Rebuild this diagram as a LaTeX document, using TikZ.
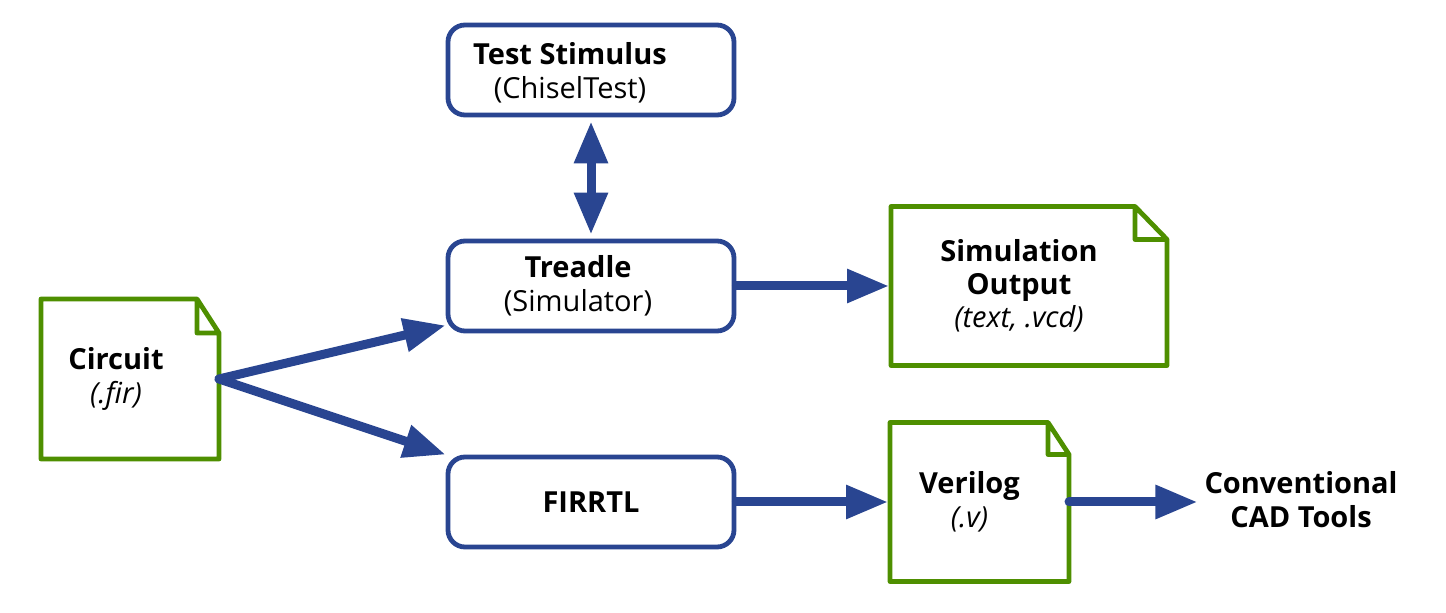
\documentclass[tikz,border=0pt]{standalone}
\usepackage{fontspec}
\setmainfont{Open Sans}
\usetikzlibrary{positioning, arrows.meta}

\definecolor{flowblue}{RGB}{41,69,145}
\definecolor{filegreen}{RGB}{78,143,0}

\tikzset{
  box/.style={draw=flowblue, line width=2.4pt, rounded corners=8.5pt, minimum width=143pt, minimum height=45pt},
  file/.style 2 args={inner sep=0pt, outer sep=0pt, minimum width=#1, minimum height=#2},
  txt/.style={align=center},
  flow/.style={draw=flowblue, line width=4.5pt, line cap=round, -{Triangle[length=21pt,width=16pt]}},
}
% dog-eared file outline: node, fold width, fold height
\newcommand{\docfile}[3]{%
  \draw[filegreen, line width=2.4pt, line join=round]
    (#1.north west) -- ([xshift=-#2]#1.north east) -- ([yshift=-#3]#1.north east)
    -- (#1.south east) -- (#1.south west) -- cycle
    ([xshift=-#2]#1.north east) |- ([yshift=-#3]#1.north east);}

\begin{document}
\begin{tikzpicture}[x=0.5pt, y=-0.5pt, node distance=108pt, font=\fontsize{14.5}{17}\selectfont]
\useasboundingbox (0,0) rectangle (1446,613);

	\node[box] (tread) at (591,286) {};
	\node[box, above of=tread] (stim) {};
	\node[box, below of=tread] (firrtl) {};
	\node[file={89pt}{80pt}] (circuit) at (130,379) {};
	\node[file={138pt}{79.5pt}, right of=tread, node distance=219pt] (simout) {};
	\node[file={89.5pt}{79.5pt}, right of=firrtl, node distance=194.25pt] (verilog) {};
	\docfile{circuit}{11pt}{17pt}
	\docfile{simout}{16pt}{16.5pt}
	\docfile{verilog}{10.5pt}{16pt}

	\node[txt] (stimtxt) at ([xshift=-10.5pt,yshift=-1.5pt]stim) {\textbf{Test Stimulus}\\(ChiselTest)};
	\node[txt] (treadtxt) at ([xshift=-6.5pt]tread) {\textbf{Treadle}\\(Simulator)};
	\node[txt] (firrtltxt) at (firrtl) {\textbf{FIRRTL}};
	\node[txt] (circuittxt) at ([xshift=-7pt]circuit) {\textbf{Circuit}\\\textit{(.fir)}};
	\node[txt, font=\fontsize{14.5}{16.5}\selectfont] (simouttxt) at ([xshift=-5pt]simout) {\textbf{Simulation}\\\textbf{Output}\\\textit{(text, .vcd)}};
	\node[txt] (verilogtxt) at ([xshift=-5pt]verilog) {\textbf{Verilog}\\\textit{(.v)}};
	\node[txt] (cad) at (1301,500) {\textbf{Conventional}\\\textbf{CAD Tools}};

	\draw[flow] (circuit.east) -- ([yshift=4pt]tread.south west);
	\draw[flow] (circuit.east) -- (firrtl.north west);
	\draw[flow, shorten >=1pt] (tread.east) -- (simout.west);
	\draw[flow, shorten >=1pt] (firrtl.east) -- (verilog.west);
	\draw[flow] (verilog.east) -- (verilog.east -| cad.west);
	\draw[flow, {Triangle[length=21pt,width=16pt]}-{Triangle[length=21pt,width=16pt]}, shorten <=2pt, shorten >=2pt] (stim) -- (tread);
\end{tikzpicture}
\end{document}
